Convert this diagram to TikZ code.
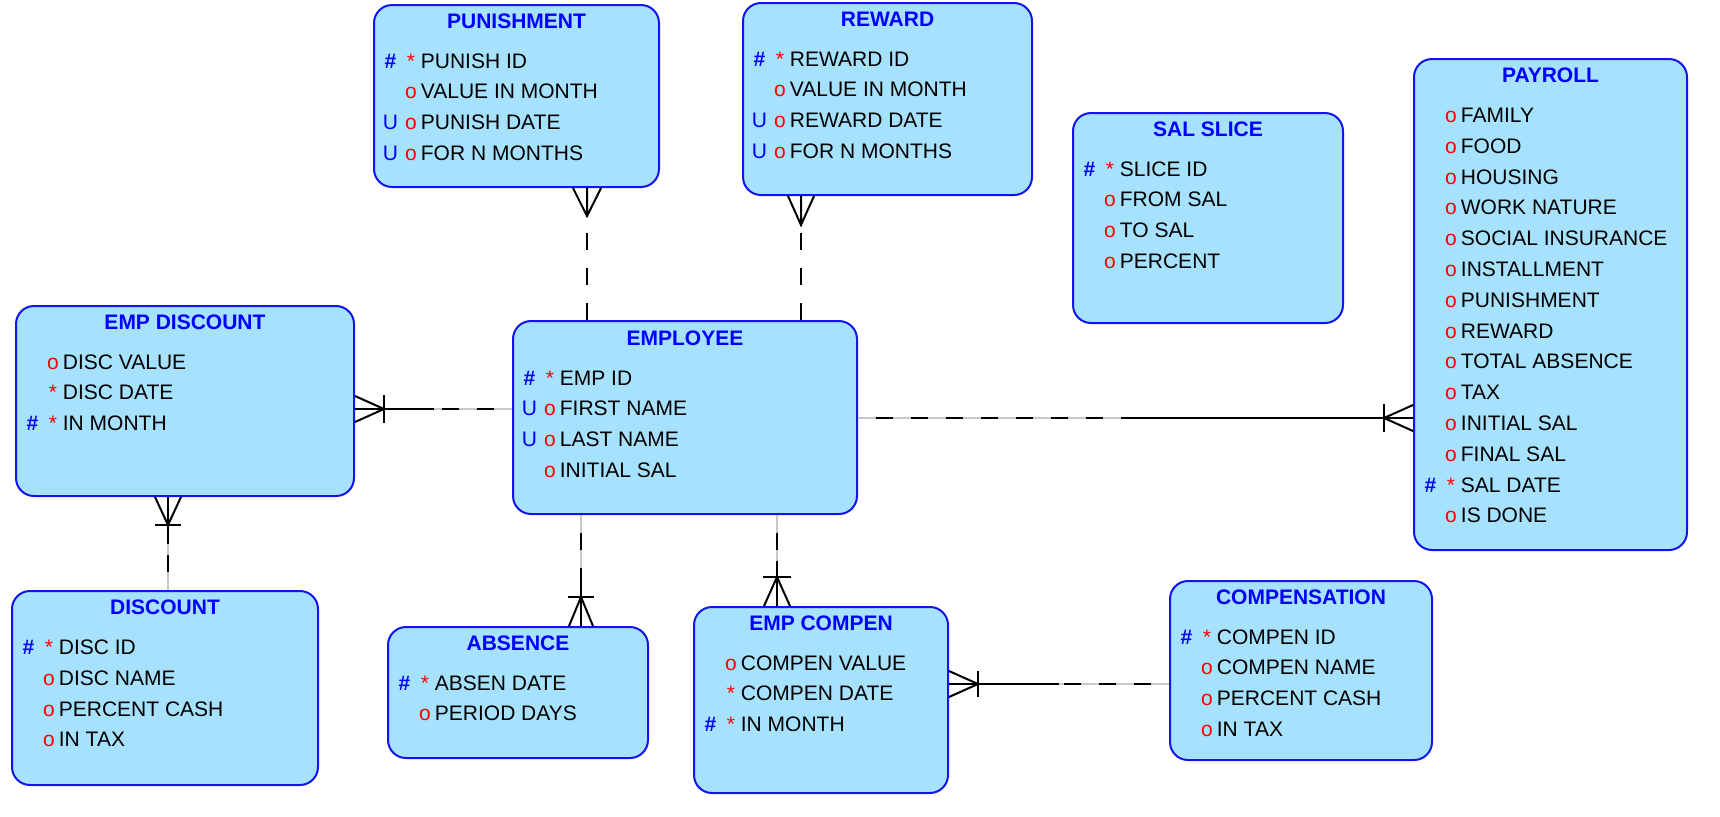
\documentclass[tikz,border=0pt]{standalone}
\usepackage{fontspec}
\setmainfont{Liberation Sans}
\usepackage{xcolor}
\usepackage{tikz}
\usetikzlibrary{calc}

\definecolor{entfill}{RGB}{166,225,253}
\definecolor{entline}{RGB}{20,20,235}
\definecolor{keyblue}{RGB}{0,0,255}
\definecolor{attred}{RGB}{255,0,0}
\definecolor{gapgray}{RGB}{200,200,200}

\newcommand{\hashmk}{\textcolor{keyblue}{\textbf{\#}}}
\newcommand{\uniqmk}{\textcolor{keyblue}{U}}
\newcommand{\starmk}{\textcolor{attred}{*}}
\newcommand{\omk}{\textcolor{attred}{o}}
\newcommand{\erow}[3]{\makebox[16pt][c]{#1}\makebox[4.5pt][c]{#2}\hspace{2.75pt}#3}

\tikzset{
  entity/.style={draw=entline, fill=entfill, line width=1pt, rounded corners=9pt, inner sep=0pt},
  enttitle/.style={text=keyblue, font=\fontsize{10.5}{12}\bfseries\selectfont, inner sep=0pt, text height=7.5pt, text depth=0pt},
  attrrow/.style={anchor=west, font=\fontsize{10.5}{12}\selectfont, inner sep=0pt, text height=7.5pt, text depth=0pt},
  relline/.style={line width=1pt},
  reldash/.style={line width=1pt, dash pattern=on 8.5pt off 9pt},
  relhalf/.style={line width=1pt, dash pattern=on 8.5pt off 9pt, dash phase=8.5pt, preaction={draw=gapgray, line width=0.6pt, solid}}
}

\begin{document}
\begin{tikzpicture}[x=0.5pt,y=0.5pt,yscale=-1,xscale=1]
\useasboundingbox (0,0) rectangle (1720,816);

%Entities
\node[entity, minimum width=142.5pt, minimum height=91pt] (pun) at (516.5,96) {};
\node[entity, minimum width=144.5pt, minimum height=96pt] (rew) at (887.5,99) {};
\node[entity, minimum width=135pt, minimum height=105pt] (sal) at (1208,218) {};
\node[entity, minimum width=136.5pt, minimum height=245.5pt] (pay) at (1550.5,304.5) {};
\node[entity, minimum width=169pt, minimum height=95pt] (edisc) at (185,401) {};
\node[entity, minimum width=172pt, minimum height=96.5pt] (emp) at (685,417.5) {};
\node[entity, minimum width=153pt, minimum height=97pt] (disc) at (165,688) {};
\node[entity, minimum width=130pt, minimum height=65.5pt] (abs) at (518,692.5) {};
\node[entity, minimum width=127pt, minimum height=93pt] (ecomp) at (821,700) {};
\node[entity, minimum width=131pt, minimum height=89.5pt] (comp) at (1301,670.5) {};

% Text Node PUNISHMENT
\node[enttitle] (pun-t) at (516.5,21) {PUNISHMENT};
\node[attrrow] (pun-1) at (374,60.5) {\erow{\hashmk}{\starmk}{PUNISH ID}};
\node[attrrow] (pun-2) at (374,91.3) {\erow{}{\omk}{VALUE IN MONTH}};
\node[attrrow] (pun-3) at (374,122.1) {\erow{\uniqmk}{\omk}{PUNISH DATE}};
\node[attrrow] (pun-4) at (374,152.9) {\erow{\uniqmk}{\omk}{FOR N MONTHS}};
% Text Node REWARD
\node[enttitle] (rew-t) at (887.5,19) {REWARD};
\node[attrrow] (rew-1) at (743,58.5) {\erow{\hashmk}{\starmk}{REWARD ID}};
\node[attrrow] (rew-2) at (743,89.3) {\erow{}{\omk}{VALUE IN MONTH}};
\node[attrrow] (rew-3) at (743,120.1) {\erow{\uniqmk}{\omk}{REWARD DATE}};
\node[attrrow] (rew-4) at (743,150.9) {\erow{\uniqmk}{\omk}{FOR N MONTHS}};
% Text Node SAL SLICE
\node[enttitle] (sal-t) at (1208,129) {SAL SLICE};
\node[attrrow] (sal-1) at (1073,168.5) {\erow{\hashmk}{\starmk}{SLICE ID}};
\node[attrrow] (sal-2) at (1073,199.3) {\erow{}{\omk}{FROM SAL}};
\node[attrrow] (sal-3) at (1073,230.1) {\erow{}{\omk}{TO SAL}};
\node[attrrow] (sal-4) at (1073,260.9) {\erow{}{\omk}{PERCENT}};
% Text Node PAYROLL
\node[enttitle] (pay-t) at (1550.5,75) {PAYROLL};
\node[attrrow] (pay-1) at (1414,115) {\erow{}{\omk}{FAMILY}};
\node[attrrow] (pay-2) at (1414,145.8) {\erow{}{\omk}{FOOD}};
\node[attrrow] (pay-3) at (1414,176.6) {\erow{}{\omk}{HOUSING}};
\node[attrrow] (pay-4) at (1414,207.4) {\erow{}{\omk}{WORK NATURE}};
\node[attrrow] (pay-5) at (1414,238.2) {\erow{}{\omk}{SOCIAL INSURANCE}};
\node[attrrow] (pay-6) at (1414,269) {\erow{}{\omk}{INSTALLMENT}};
\node[attrrow] (pay-7) at (1414,299.8) {\erow{}{\omk}{PUNISHMENT}};
\node[attrrow] (pay-8) at (1414,330.6) {\erow{}{\omk}{REWARD}};
\node[attrrow] (pay-9) at (1414,361.4) {\erow{}{\omk}{TOTAL ABSENCE}};
\node[attrrow] (pay-10) at (1414,392.2) {\erow{}{\omk}{TAX}};
\node[attrrow] (pay-11) at (1414,423) {\erow{}{\omk}{INITIAL SAL}};
\node[attrrow] (pay-12) at (1414,453.8) {\erow{}{\omk}{FINAL SAL}};
\node[attrrow] (pay-13) at (1414,484.6) {\erow{\hashmk}{\starmk}{SAL DATE}};
\node[attrrow] (pay-14) at (1414,515.4) {\erow{}{\omk}{IS DONE}};
% Text Node EMP DISCOUNT
\node[enttitle] (edisc-t) at (185,322) {EMP DISCOUNT};
\node[attrrow] (edisc-1) at (16,361.5) {\erow{}{\omk}{DISC VALUE}};
\node[attrrow] (edisc-2) at (16,392.3) {\erow{}{\starmk}{DISC DATE}};
\node[attrrow] (edisc-3) at (16,423.1) {\erow{\hashmk}{\starmk}{IN MONTH}};
% Text Node EMPLOYEE
\node[enttitle] (emp-t) at (685,338) {EMPLOYEE};
\node[attrrow] (emp-1) at (513,377.5) {\erow{\hashmk}{\starmk}{EMP ID}};
\node[attrrow] (emp-2) at (513,408.3) {\erow{\uniqmk}{\omk}{FIRST NAME}};
\node[attrrow] (emp-3) at (513,439.1) {\erow{\uniqmk}{\omk}{LAST NAME}};
\node[attrrow] (emp-4) at (513,469.9) {\erow{}{\omk}{INITIAL SAL}};
% Text Node DISCOUNT
\node[enttitle] (disc-t) at (165,607) {DISCOUNT};
\node[attrrow] (disc-1) at (12,647) {\erow{\hashmk}{\starmk}{DISC ID}};
\node[attrrow] (disc-2) at (12,677.8) {\erow{}{\omk}{DISC NAME}};
\node[attrrow] (disc-3) at (12,708.6) {\erow{}{\omk}{PERCENT CASH}};
\node[attrrow] (disc-4) at (12,739.4) {\erow{}{\omk}{IN TAX}};
% Text Node ABSENCE
\node[enttitle] (abs-t) at (518,643) {ABSENCE};
\node[attrrow] (abs-1) at (388,682.5) {\erow{\hashmk}{\starmk}{ABSEN DATE}};
\node[attrrow] (abs-2) at (388,713.3) {\erow{}{\omk}{PERIOD DAYS}};
% Text Node EMP COMPEN
\node[enttitle] (ecomp-t) at (821,623) {EMP COMPEN};
\node[attrrow] (ecomp-1) at (694,662.5) {\erow{}{\omk}{COMPEN VALUE}};
\node[attrrow] (ecomp-2) at (694,693.3) {\erow{}{\starmk}{COMPEN DATE}};
\node[attrrow] (ecomp-3) at (694,724.1) {\erow{\hashmk}{\starmk}{IN MONTH}};
% Text Node COMPENSATION
\node[enttitle] (comp-t) at (1301,597) {COMPENSATION};
\node[attrrow] (comp-1) at (1170,636.5) {\erow{\hashmk}{\starmk}{COMPEN ID}};
\node[attrrow] (comp-2) at (1170,667.3) {\erow{}{\omk}{COMPEN NAME}};
\node[attrrow] (comp-3) at (1170,698.1) {\erow{}{\omk}{PERCENT CASH}};
\node[attrrow] (comp-4) at (1170,728.9) {\erow{}{\omk}{IN TAX}};

%Relation PUNISHMENT - EMPLOYEE
\coordinate (pe1) at (pun.south -| 587,0);
\coordinate (pe2) at (emp.north -| 587,0);
\draw[reldash] (pe2) -- ($(pe1)+(0,28)$);
\draw[relline] ($(pe1)+(-14,0)$) -- ($(pe1)+(0,28)$) -- ($(pe1)+(14,0)$) (pe1) -- ($(pe1)+(0,28)$);
%Relation REWARD - EMPLOYEE
\coordinate (re1) at (rew.south -| 801,0);
\coordinate (re2) at (emp.north -| 801,0);
\draw[reldash] (re2) -- ($(re1)+(0,29)$);
\draw[relline] ($(re1)+(-13,0)$) -- ($(re1)+(0,29)$) -- ($(re1)+(13,0)$) (re1) -- ($(re1)+(0,29)$);
%Relation EMP DISCOUNT - EMPLOYEE
\coordinate (de1) at (edisc.east |- 0,409);
\coordinate (de2) at (emp.west |- 0,409);
\coordinate (dem) at ($(de1)!0.5!(de2)$);
\draw[relline] (de1) -- (dem);
\draw[relhalf] (de2) -- (dem);
\draw[relline] ($(de1)+(0,-13)$) -- ($(de1)+(29,0)$) -- ($(de1)+(0,13)$);
\draw[relline] ($(de1)+(29,-14)$) -- ($(de1)+(29,14)$);
%Relation PAYROLL - EMPLOYEE
\coordinate (ep1) at (emp.east |- 0,418);
\coordinate (ep2) at (pay.west |- 0,418);
\coordinate (epm) at ($(ep1)!0.5!(ep2)$);
\draw[relline] (ep2) -- (epm);
\draw[relhalf] (ep1) -- (epm);
\draw[relline] ($(ep2)+(0,-13)$) -- ($(ep2)+(-29,0)$) -- ($(ep2)+(0,13)$);
\draw[relline] ($(ep2)+(-29,-14)$) -- ($(ep2)+(-29,14)$);
%Relation ABSENCE - EMPLOYEE
\coordinate (ea1) at (emp.south -| 581,0);
\coordinate (ea2) at (abs.north -| 581,0);
\coordinate (eam) at ($(ea1)!0.5!(ea2)$);
\draw[relline] (ea2) -- (eam);
\draw[relhalf] (ea1) -- (eam);
\draw[relline] ($(ea2)+(-12,0)$) -- ($(ea2)+(0,-29)$) -- ($(ea2)+(12,0)$);
\draw[relline] ($(ea2)+(-13,-29)$) -- ($(ea2)+(13,-29)$);
%Relation EMP COMPEN - EMPLOYEE
\coordinate (ec1) at (emp.south -| 777,0);
\coordinate (ec2) at (ecomp.north -| 777,0);
\coordinate (ecm) at ($(ec1)!0.5!(ec2)$);
\draw[relline] (ec2) -- (ecm);
\draw[relhalf] (ec1) -- (ecm);
\draw[relline] ($(ec2)+(-13,0)$) -- ($(ec2)+(0,-29)$) -- ($(ec2)+(13,0)$);
\draw[relline] ($(ec2)+(-14,-29)$) -- ($(ec2)+(14,-29)$);
%Relation EMP DISCOUNT - DISCOUNT
\coordinate (dd1) at (edisc.south -| 168,0);
\coordinate (dd2) at (disc.north -| 168,0);
\coordinate (ddm) at ($(dd1)!0.5!(dd2)$);
\draw[relline] (dd1) -- (ddm);
\draw[relhalf] (dd2) -- (ddm);
\draw[relline] ($(dd1)+(-13,0)$) -- ($(dd1)+(0,28)$) -- ($(dd1)+(13,0)$);
\draw[relline] ($(dd1)+(-13,28)$) -- ($(dd1)+(13,28)$);
%Relation EMP COMPEN - COMPENSATION
\coordinate (cc1) at (ecomp.east |- 0,684);
\coordinate (cc2) at (comp.west |- 0,684);
\coordinate (ccm) at ($(cc1)!0.5!(cc2)$);
\draw[relline] (cc1) -- (ccm);
\draw[relhalf] (cc2) -- (ccm);
\draw[relline] ($(cc1)+(0,-13)$) -- ($(cc1)+(29,0)$) -- ($(cc1)+(0,13)$);
\draw[relline] ($(cc1)+(29,-13)$) -- ($(cc1)+(29,13)$);
\end{tikzpicture}
\end{document}
